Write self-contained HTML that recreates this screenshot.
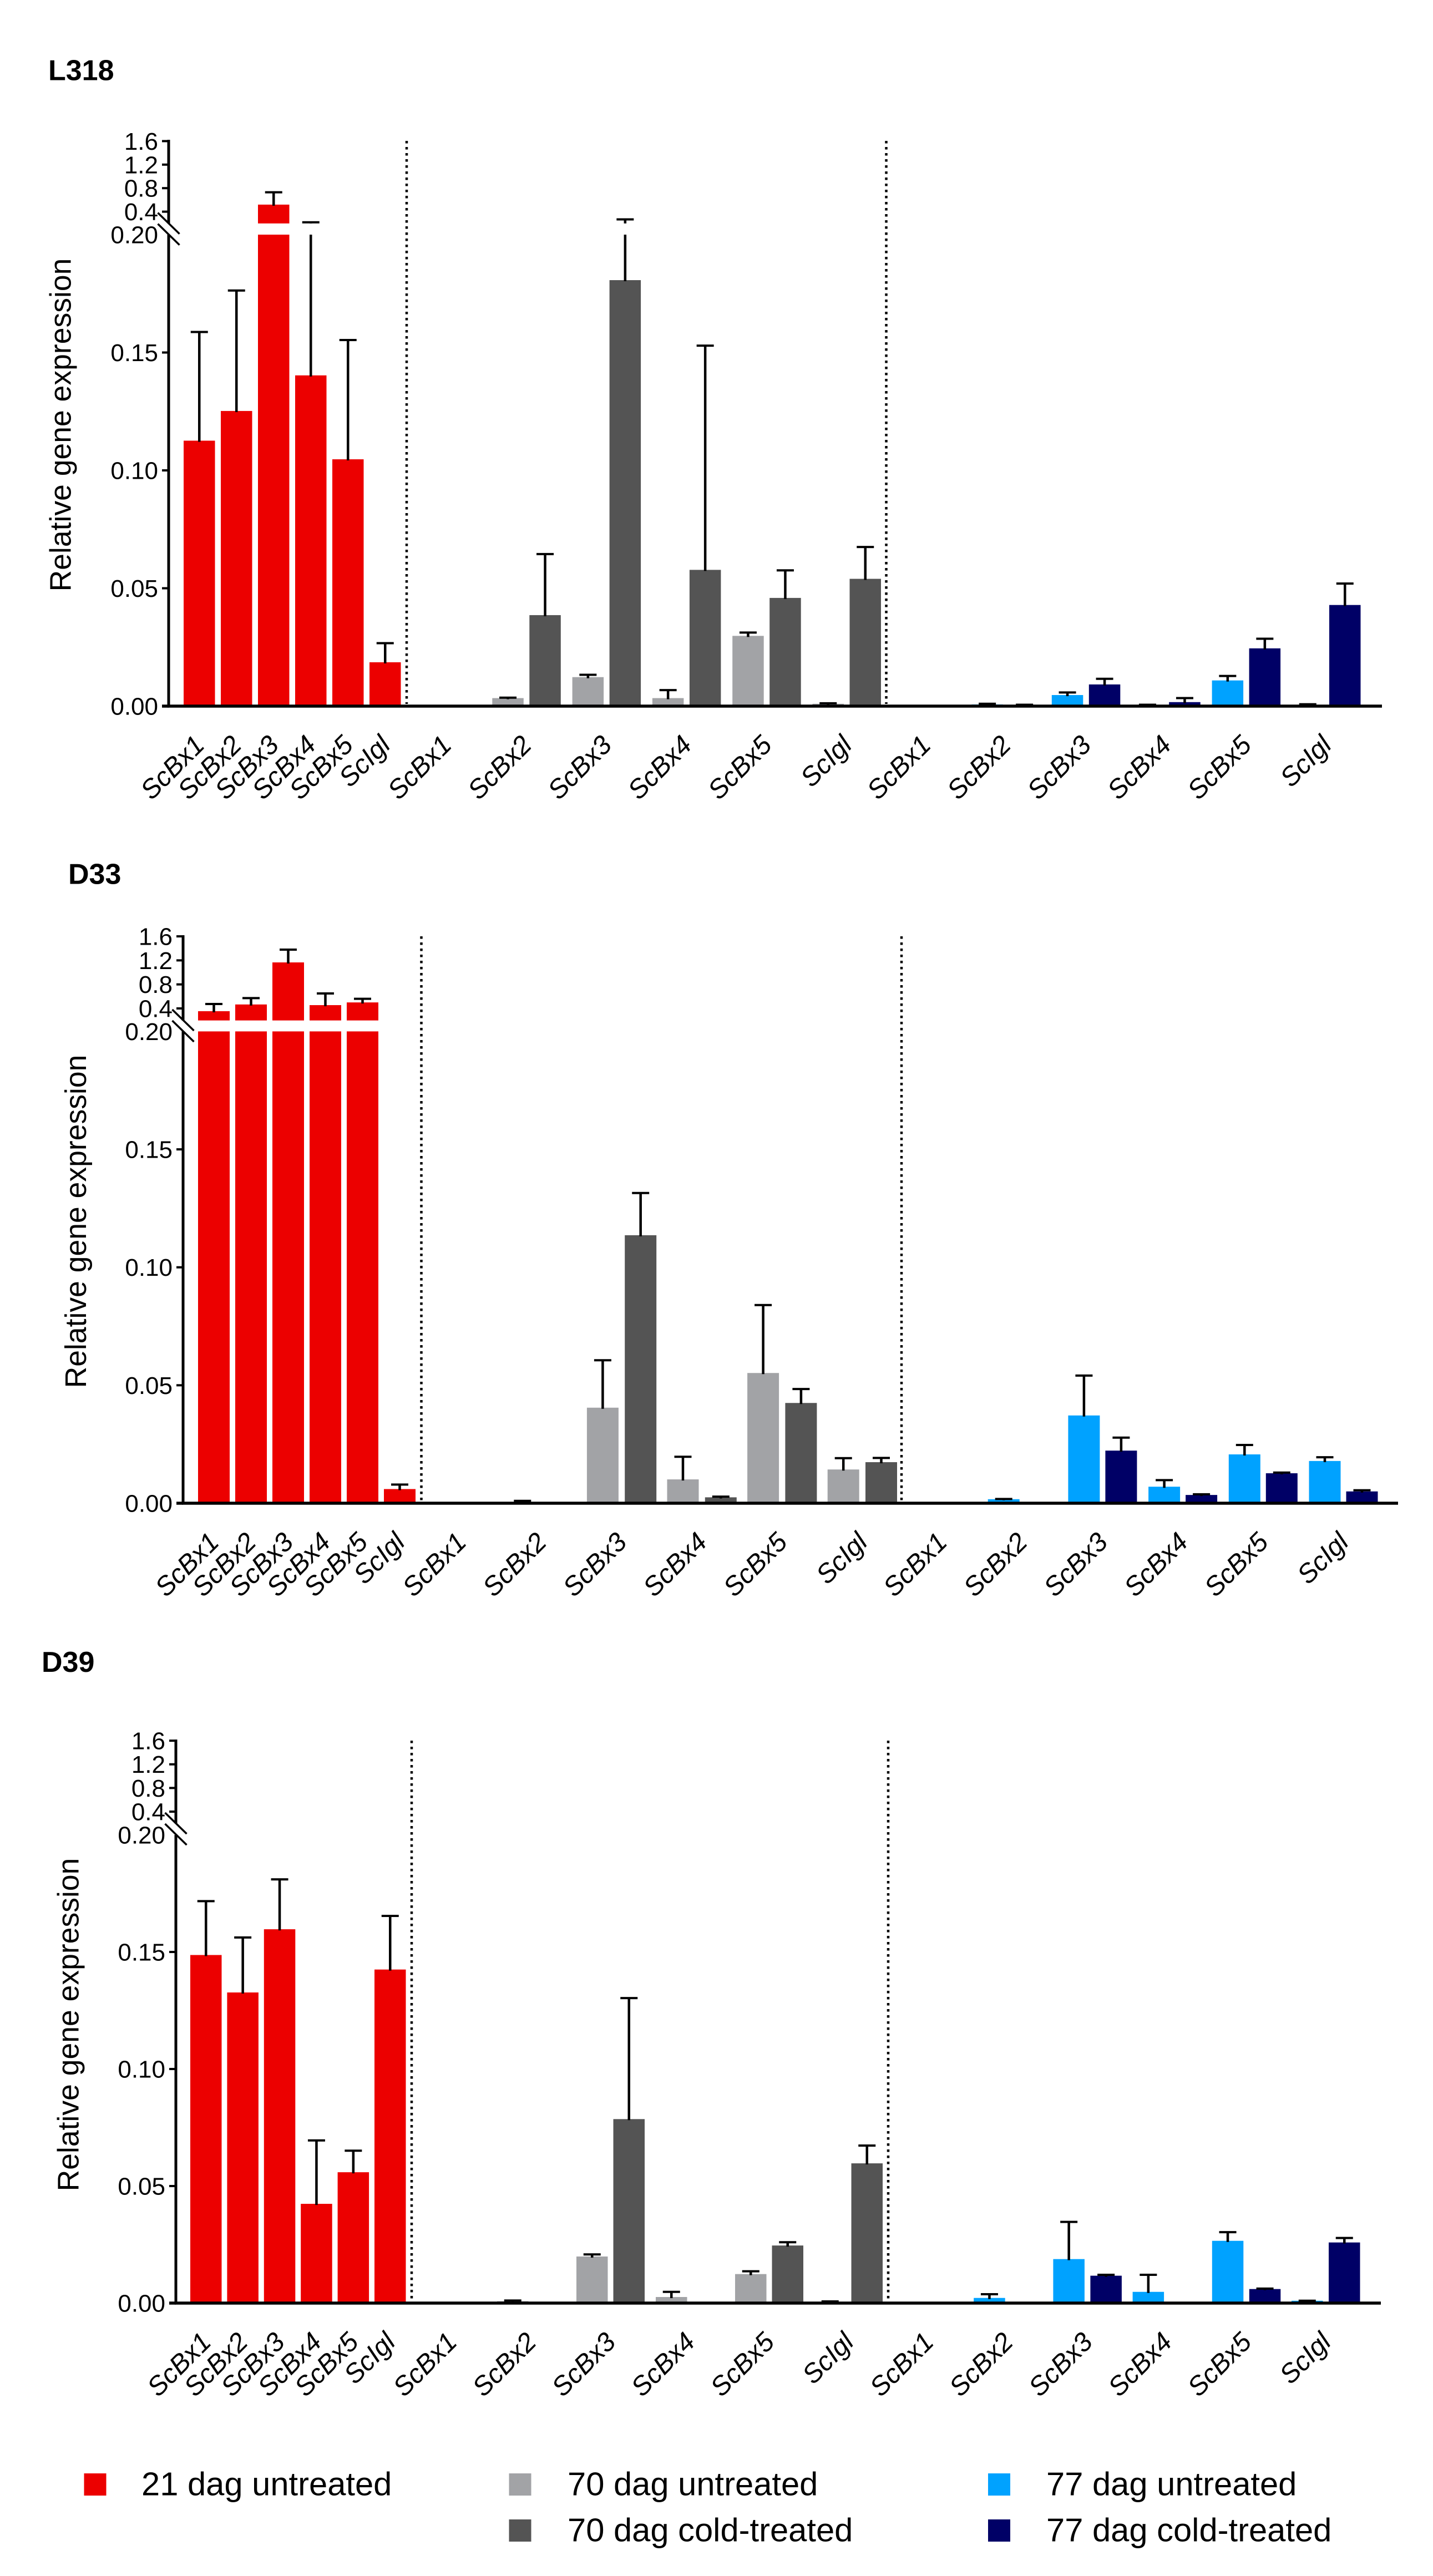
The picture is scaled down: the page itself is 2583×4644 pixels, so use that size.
<!DOCTYPE html>
<html lang="en">
<head>
<meta charset="utf-8">
<title>Relative gene expression: L318, D33, D39</title>
<style>
html,body{margin:0;padding:0;background:#fff;}
svg{display:block;}
text{font-family:"Liberation Sans",Arial,sans-serif;fill:#000;}
</style>
</head>
<body>
<svg id="figure" xmlns="http://www.w3.org/2000/svg" width="2583" height="4644" viewBox="0 0 2583 4644">
  <rect x="0" y="0" width="2583" height="4644" fill="#fff"/>

  <text x="87" y="144.4" font-size="52" font-weight="700">L318</text>
  <text x="123" y="1593.4" font-size="52" font-weight="700">D33</text>
  <text x="75" y="3014" font-size="52" font-weight="700">D39</text>

  <text transform="translate(127.5 766) rotate(-90)" text-anchor="middle" font-size="53.5">Relative gene expression</text>
  <text transform="translate(155 2202) rotate(-90)" text-anchor="middle" font-size="53.5">Relative gene expression</text>
  <text transform="translate(141.6 3650) rotate(-90)" text-anchor="middle" font-size="53.5">Relative gene expression</text>

  <g id="plots"></g>

  <g>
    <g>
      <rect x="151.5" y="4459" width="40" height="40" fill="#ec0000"/>
      <text x="255" y="4498.7" font-size="59.7">21 dag untreated</text>
    </g>
    <g>
      <rect x="917.5" y="4459" width="40" height="40" fill="#a2a3a6"/>
      <text x="1023" y="4498.7" font-size="59.7">70 dag untreated</text>
    </g>
    <g>
      <rect x="917.5" y="4542" width="40" height="40" fill="#545454"/>
      <text x="1023" y="4581.7" font-size="59.7">70 dag cold-treated</text>
    </g>
    <g>
      <rect x="1781" y="4459" width="40" height="40" fill="#00a2ff"/>
      <text x="1886" y="4498.7" font-size="59.7">77 dag untreated</text>
    </g>
    <g>
      <rect x="1781" y="4542" width="40" height="40" fill="#000066"/>
      <text x="1886" y="4581.7" font-size="59.7">77 dag cold-treated</text>
    </g>
  </g>
</svg>

<script>
// Categories and tick labels
const genes = ['ScBx1', 'ScBx2', 'ScBx3', 'ScBx4', 'ScBx5', 'ScIgl'];
const upperTicks = [1.6, 1.2, 0.8, 0.4];
const lowerTicks = [0.20, 0.15, 0.10, 0.05, 0.00];

// L318: bar means and the value at the top of each error bar
const l318Dag21 = [0.1126, 0.1252, 0.52, 0.1403, 0.1047, 0.0186];
const l318Dag21Top = [0.1587, 0.1763, 0.73, 0.219, 0.1553, 0.0267];
const l318Dag70Untreated = [0, 0.0034, 0.0123, 0.0034, 0.0298, 0.001];
const l318Dag70UntreatedTop = [0, 0.0036, 0.0133, 0.0068, 0.0312, 0.0012];
const l318Dag70Cold = [0, 0.0386, 0.1807, 0.0578, 0.0459, 0.054];
const l318Dag70ColdTop = [0, 0.0645, 0.269, 0.1529, 0.0576, 0.0675];
const l318Dag77Untreated = [0, 0.0007, 0.0047, 0.0005, 0.0109, 0.0005];
const l318Dag77UntreatedTop = [0, 0.001, 0.0058, 0.0006, 0.0128, 0.0008];
const l318Dag77Cold = [0, 0.0005, 0.0092, 0.0017, 0.0245, 0.0429];
const l318Dag77ColdTop = [0, 0.0006, 0.0116, 0.0034, 0.0286, 0.052];

// D33
const d33Dag21 = [0.354, 0.466, 1.166, 0.455, 0.50, 0.006];
const d33Dag21Top = [0.474, 0.572, 1.379, 0.649, 0.56, 0.0079];
const d33Dag70Untreated = [0, 0.0005, 0.0405, 0.0101, 0.0552, 0.0143];
const d33Dag70UntreatedTop = [0, 0.001, 0.0606, 0.0197, 0.084, 0.0191];
const d33Dag70Cold = [0, 0, 0.1136, 0.0025, 0.0425, 0.0174];
const d33Dag70ColdTop = [0, 0, 0.1315, 0.0028, 0.0484, 0.0192];
const d33Dag77Untreated = [0, 0.0017, 0.0372, 0.007, 0.0207, 0.0179];
const d33Dag77UntreatedTop = [0, 0.0018, 0.0541, 0.0098, 0.0247, 0.0195];
const d33Dag77Cold = [0, 0, 0.0223, 0.0035, 0.0127, 0.005];
const d33Dag77ColdTop = [0, 0, 0.0278, 0.0038, 0.013, 0.0055];

// D39
const d39Dag21 = [0.1487, 0.1327, 0.1597, 0.0424, 0.0559, 0.1425];
const d39Dag21Top = [0.1717, 0.1562, 0.181, 0.0695, 0.0651, 0.1654];
const d39Dag70Untreated = [0, 0.0008, 0.0199, 0.0026, 0.0124, 0.0005];
const d39Dag70UntreatedTop = [0, 0.0011, 0.0208, 0.0048, 0.0136, 0.0007];
const d39Dag70Cold = [0, 0, 0.0786, 0, 0.0246, 0.0597];
const d39Dag70ColdTop = [0, 0, 0.1303, 0, 0.026, 0.0673];
const d39Dag77Untreated = [0, 0.0022, 0.0188, 0.0048, 0.0266, 0.001];
const d39Dag77UntreatedTop = [0, 0.0038, 0.0347, 0.0121, 0.0303, 0.001];
const d39Dag77Cold = [0, 0, 0.0117, 0, 0.006, 0.0259];
const d39Dag77ColdTop = [0, 0, 0.0121, 0, 0.0062, 0.0278];

const SVGNS = 'http://www.w3.org/2000/svg';
const plotsRoot = document.getElementById('plots');

function drawPanel(panel) {
  const group = document.createElementNS(SVGNS, 'g');
  
  
  plotsRoot.appendChild(group);

  const yLower = v => panel.y0 - v * panel.lowerScale;
  const yUpper = v => panel.y04 - (v - 0.4) * panel.upperScale;
  const yTopOfLower = yLower(0.2);
  const yBottomOfUpper = yUpper(0.2);
  const yVal = v => (v > 0.2 ? yUpper(v) : yLower(v));

  function line(x1, y1, x2, y2, w, label, dash) {
    const el = document.createElementNS(SVGNS, 'line');
    el.setAttribute('x1', x1);
    el.setAttribute('y1', y1);
    el.setAttribute('x2', x2);
    el.setAttribute('y2', y2);
    el.setAttribute('stroke', '#000');
    el.setAttribute('stroke-width', w);
    if (dash) el.setAttribute('stroke-dasharray', dash);
    
    
    group.appendChild(el);
    return el;
  }

  function box(x, y, w, h, fill, label) {
    const el = document.createElementNS(SVGNS, 'rect');
    el.setAttribute('x', x);
    el.setAttribute('y', y);
    el.setAttribute('width', w);
    el.setAttribute('height', h);
    el.setAttribute('fill', fill);
    
    
    group.appendChild(el);
    return el;
  }

  function bar(cx, w, value, top, fill, label) {
    if (value <= 0) return;
    const x = cx - w / 2;
    if (value > 0.2) {
      box(x, yTopOfLower, w, panel.y0 - yTopOfLower, fill, label + '-lower');
      box(x, yVal(value), w, yBottomOfUpper - yVal(value), fill, label + '-upper');
    } else {
      box(x, yVal(value), w, panel.y0 - yVal(value), fill, label);
    }
    if (top > 0.2 && value <= 0.2) {
      line(cx, yVal(value) + 2, cx, yTopOfLower, 4.5, label + '-error-stem-lower');
      line(cx, yBottomOfUpper, cx, yVal(top), 4.5, label + '-error-stem-upper');
    } else {
      line(cx, yVal(value) + 2, cx, yVal(top), 4.5, label + '-error-stem');
    }
    line(cx - 15.5, yVal(top), cx + 15.5, yVal(top), 4, label + '-error-cap');
  }

  function geneLabel(x, text, label) {
    const el = document.createElementNS(SVGNS, 'text');
    const ay = panel.y0 + 73;
    el.setAttribute('transform', 'translate(' + x + ' ' + ay + ') rotate(-45)');
    el.setAttribute('text-anchor', 'end');
    el.setAttribute('font-size', '48');
    el.setAttribute('font-style', 'italic');
    el.textContent = text;
    
    
    group.appendChild(el);
  }

  // Bars and error bars for each section
  genes.forEach((gene, i) => {
    const key = panel.name + '-' + gene.toLowerCase();
    const w = panel.barW;
    const redCx = panel.redX + panel.redStep * i + w / 2;
    bar(redCx, w, panel.early[i], panel.earlyTop[i], '#ec0000', 'bar-21-dag-' + key);
    geneLabel(redCx + 12, gene, 'x-label-21-dag-' + key);

    const lightCx = panel.lightX + panel.midPitch * i + w / 2;
    const darkCx = panel.darkX + panel.midPitch * i + w / 2;
    bar(lightCx, w, panel.midUntreated[i], panel.midUntreatedTop[i], '#a2a3a6', 'bar-70-dag-untreated-' + key);
    bar(darkCx, w, panel.midCold[i], panel.midColdTop[i], '#545454', 'bar-70-dag-cold-' + key);
    geneLabel((lightCx + darkCx) / 2 + 12, gene, 'x-label-70-dag-' + key);

    const blueCx = panel.blueX + panel.latePitch * i + w / 2;
    const navyCx = panel.navyX + panel.latePitch * i + w / 2;
    bar(blueCx, w, panel.lateUntreated[i], panel.lateUntreatedTop[i], '#00a2ff', 'bar-77-dag-untreated-' + key);
    bar(navyCx, w, panel.lateCold[i], panel.lateColdTop[i], '#000066', 'bar-77-dag-cold-' + key);
    geneLabel((blueCx + navyCx) / 2 + 12, gene, 'x-label-77-dag-' + key);
  });

  // Section separators
  panel.dividers.forEach((x, i) => {
    line(x, panel.topY, x, panel.y0 - 4, 4.5, 'section-divider-' + (i + 1), '4.5 6.5');
  });

  // Y axis in two segments with a break
  const ax = panel.axisX;
  line(ax, panel.topY - 2, ax, yBottomOfUpper, 5, 'y-axis-upper-segment');
  line(ax, yTopOfLower, ax, panel.y0, 5, 'y-axis-lower-segment');
  line(ax - 19.5, panel.y04 + 2, ax + 19.5, panel.y04 + 40, 3.5, 'axis-break-mark-upper');
  line(ax - 19.5, panel.y04 + 22, ax + 19.5, panel.y04 + 60, 3.5, 'axis-break-mark-lower');

  function tickLabel(y, text, label) {
    const el = document.createElementNS(SVGNS, 'text');
    el.setAttribute('x', ax - 19);
    el.setAttribute('y', y + 15.5);
    el.setAttribute('text-anchor', 'end');
    el.setAttribute('font-size', '44');
    el.textContent = text;
    
    
    group.appendChild(el);
  }

  upperTicks.forEach(v => {
    const y = yUpper(v);
    line(ax - 12, y, ax, y, 4, 'y-tick-' + v.toFixed(1));
    tickLabel(y, v.toFixed(1), 'y-tick-label-' + v.toFixed(1));
  });
  lowerTicks.forEach(v => {
    const y = yLower(v);
    if (v < 0.2) line(ax - 12, y, ax, y, v === 0 ? 5.5 : 4, 'y-tick-' + v.toFixed(2));
    tickLabel(y, v.toFixed(2), 'y-tick-label-' + v.toFixed(2));
  });

  // X axis baseline
  line(ax - 2, panel.y0, panel.endX, panel.y0, 5.5, 'x-axis');
}

drawPanel({
  name: 'l318', axisX: 304, y0: 1273, lowerScale: 4250, y04: 381.6, upperScale: 106, topY: 254,
  redX: 331, redStep: 67, barW: 56.5,
  lightX: 743, darkX: 810, midPitch: 144.3,
  blueX: 1607, navyX: 1674, latePitch: 144.4,
  dividers: [733, 1597.5], endX: 2491,
  early: l318Dag21, earlyTop: l318Dag21Top,
  midUntreated: l318Dag70Untreated, midUntreatedTop: l318Dag70UntreatedTop,
  midCold: l318Dag70Cold, midColdTop: l318Dag70ColdTop,
  lateUntreated: l318Dag77Untreated, lateUntreatedTop: l318Dag77UntreatedTop,
  lateCold: l318Dag77Cold, lateColdTop: l318Dag77ColdTop
});

drawPanel({
  name: 'd33', axisX: 330, y0: 2710, lowerScale: 4253, y04: 1818, upperScale: 108.3, topY: 1688,
  redX: 357, redStep: 67, barW: 57,
  lightX: 768.7, darkX: 837, midPitch: 144.6,
  blueX: 1636, navyX: 1703, latePitch: 144.7,
  dividers: [759.5, 1625], endX: 2520,
  early: d33Dag21, earlyTop: d33Dag21Top,
  midUntreated: d33Dag70Untreated, midUntreatedTop: d33Dag70UntreatedTop,
  midCold: d33Dag70Cold, midColdTop: d33Dag70ColdTop,
  lateUntreated: d33Dag77Untreated, lateUntreatedTop: d33Dag77UntreatedTop,
  lateCold: d33Dag77Cold, lateColdTop: d33Dag77ColdTop
});

drawPanel({
  name: 'd39', axisX: 317, y0: 4152, lowerScale: 4220, y04: 3266, upperScale: 106.6, topY: 3138,
  redX: 343, redStep: 66.4, barW: 56.5,
  lightX: 753, darkX: 819.5, midPitch: 143,
  blueX: 1612, navyX: 1679, latePitch: 143.2,
  dividers: [742, 1601], endX: 2489,
  early: d39Dag21, earlyTop: d39Dag21Top,
  midUntreated: d39Dag70Untreated, midUntreatedTop: d39Dag70UntreatedTop,
  midCold: d39Dag70Cold, midColdTop: d39Dag70ColdTop,
  lateUntreated: d39Dag77Untreated, lateUntreatedTop: d39Dag77UntreatedTop,
  lateCold: d39Dag77Cold, lateColdTop: d39Dag77ColdTop
});
</script>
</body>
</html>
